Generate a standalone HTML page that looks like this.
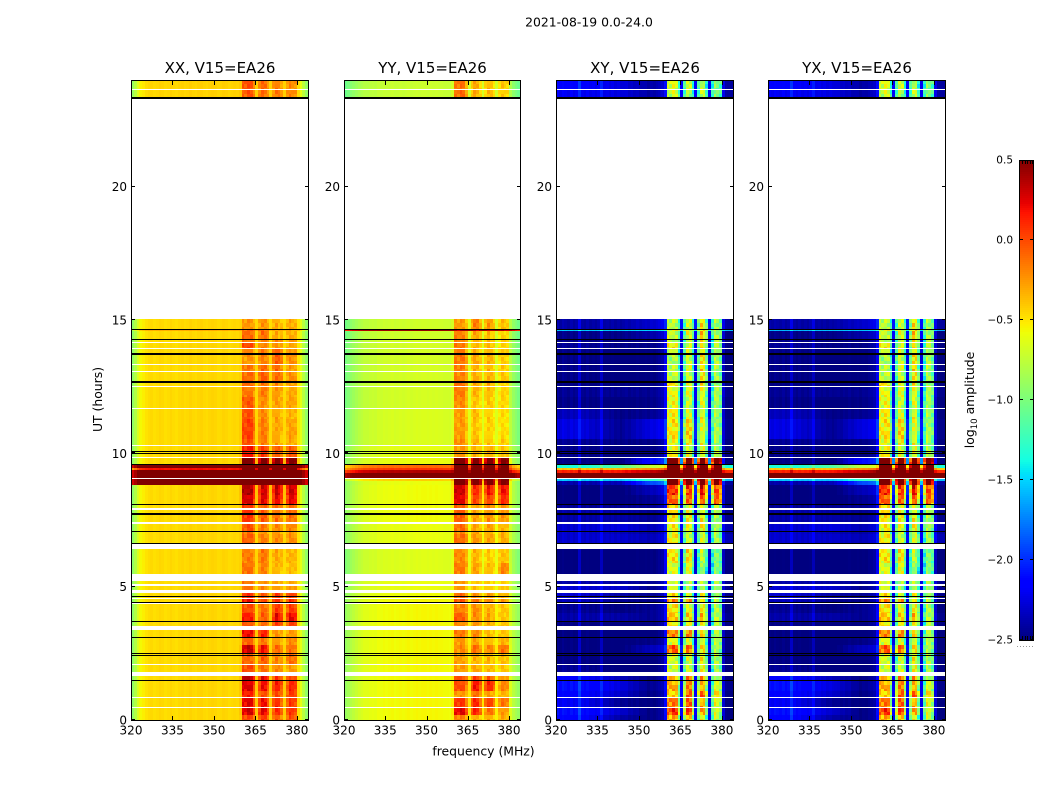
<!DOCTYPE html>
<html>
<head>
<meta charset="utf-8">
<title>2021-08-19 0.0-24.0</title>
<style>
html,body{margin:0;padding:0;background:#fff;}
svg{display:block;}
text{font-family:"DejaVu Sans","Liberation Sans",sans-serif;fill:#000;}
</style>
</head>
<body>
<svg id="figure" xmlns="http://www.w3.org/2000/svg" width="1050" height="800" viewBox="0 0 1050 800">
  <rect x="0" y="0" width="1050" height="800" fill="#fff"/>
  <text x="589" y="26.5" font-size="12.4" text-anchor="middle">2021-08-19 0.0-24.0</text>
  <text x="0" y="0" font-size="12.4" text-anchor="middle" transform="translate(102 399.5) rotate(-90)">UT (hours)</text>
  <text x="483.5" y="755.5" font-size="12.4" text-anchor="middle">frequency (MHz)</text>
  <text x="0" y="0" font-size="12.4" text-anchor="middle" transform="translate(974 400) rotate(-90)">log<tspan font-size="8.6" dy="3">10</tspan><tspan dy="-3"> amplitude</tspan></text>
  <g id="panels"></g>
  <g id="colorbar"></g>
</svg>
<script>
// Axis ticks
const freqTicks = [320, 335, 350, 365, 380];
const utTicks = [0, 5, 10, 15, 20];
const colorbarTicks = [0.5, 0.0, -0.5, -1.0, -1.5, -2.0, -2.5];
const colorbarLabels = ["0.5", "0.0", "\u22120.5", "\u22121.0", "\u22121.5", "\u22122.0", "\u22122.5"];

// Time rows that hold data [start UT, end UT] – anything not listed is blank
const rowSpans = [
[0,0.2],[0.2,0.45],[0.49,0.82],[0.86,1.1],[1.1,1.46],[1.5,1.65],[1.8,2.06],[2.1,2.5],[2.5,2.8],[2.8,3.07],
[3.11,3.37],[3.52,3.71],[3.71,4.0],[4.0,4.35],[4.39,4.55],[4.59,4.76],[4.89,5.04],[5.1,5.21],[5.47,5.9],[5.9,6.41],
[6.63,6.97],[6.99,7.05],[7.08,7.35],[7.42,7.89],[7.95,8.1],[8.1,8.45],[8.45,8.81],[8.81,8.95],[8.95,9.03],[9.07,9.25],
[9.25,9.37],[9.37,9.45],[9.45,9.61],[9.61,9.82],[9.86,10.27],[10.31,10.55],[10.55,11.3],[11.3,11.66],[11.69,12.1],[12.1,12.48],
[12.52,12.71],[12.71,13.04],[13.08,13.3],[13.34,13.75],[13.75,13.9],[13.94,14.13],[14.17,14.3],[14.3,14.57],[14.57,14.65],[14.65,15.05],
[23.28,23.61],[23.65,24.0]
];

// Flagged time spans drawn in black [start UT, end UT]
const blackSpans = [
[1.46,1.5],[2.40,2.44],[2.48,2.51],[3.07,3.11],[3.67,3.71],[4.39,4.42],[4.61,4.65],[6.60,6.63],[7.05,7.08],
[7.68,7.76],[8.06,8.10],[9.58,9.61],[10.0,10.03],[10.06,10.10],[12.63,12.71],[13.68,13.75],[14.24,14.30],[14.64,14.67],[23.28,23.35]
];

// Frequency channels 320..383 MHz: which sub-band each belongs to (0 = outside), and how strongly
const channelBand = [0,0,0,0,0,0,0,0,0,0,0,0,0,0,0,0,0,0,0,0,0,0,0,0,0,0,0,0,0,0,0,0,0,0,0,0,0,0,0,1,1,1,1,1,1,2,2,2,2,2,3,3,3,3,3,4,4,4,4,4,4,0,0,0];
const bandWeight = [0,0,0,0,0,0,0,0,0,0,0,0,0,0,0,0,0,0,0,0,0,0,0,0,0,0,0,0,0,0,0,0,0,0,0,0,0,0,0,0.1,1,1,1,1,0.72,0.15,0.72,1,1,0.72,0.15,0.72,1,1,0.72,0.15,0.72,1,1,0.85,0.1,0,0,0];

// Per-channel offsets (log10 amplitude)
const xxProfile = [-0.42,-0.3,-0.16,-0.06,-0.03,0.01,0.03,0.04,0.02,0.03,0.05,0.04,0.02,0.03,0.05,0.03,0.02,0.04,0.05,0.03,0.04,0.06,0.04,0.03,0.05,0.06,0.04,0.03,0.05,0.06,0.05,0.03,0.04,0.06,0.05,0.03,0.04,0.05,0.04,0.03,0.02,-0.02,0.03,0.02,0,0,0,0.03,-0.02,0,0,0,0.03,-0.03,0,0,0,0.02,-0.02,0,-0.02,-0.12,-0.28,-0.42];
const yyProfile = [-0.32,-0.27,-0.22,-0.18,-0.14,-0.1,-0.08,-0.05,-0.05,-0.03,-0.02,-0.03,0,-0.01,0.01,0,0.01,0.02,0,0.01,0.02,0.01,0.02,0.03,0.01,0.02,0.03,0.02,0.03,0.03,0.02,0.03,0.02,0.03,0.02,0.02,0.01,0.01,0,0,0.02,-0.02,0.03,0.02,0,0,0,0.03,-0.02,0,0,0,0.03,-0.03,0,0,0,0.02,-0.02,0,-0.1,-0.2,-0.26,-0.32];
const xyProfile = [0.05,0,0.06,0.03,0,0.05,0,0.03,0.22,0.02,0,0.05,0,0.03,0,0.04,0.2,0.01,0.03,0,0.04,0,0.03,0,0.02,0.04,0,0.03,0.01,0.04,0,0.02,0.03,0,0.04,0.02,0.05,0.08,0.12,0.15,0.02,-0.03,0.04,0.02,0,0,0,0.04,-0.03,0,0,0,0.04,-0.04,0,0,0,0.03,-0.03,0,0.05,0.02,0,0];
const yxProfile = [0.04,0.01,0.05,0.03,0.01,0.05,0,0.03,0.2,0.03,0,0.04,0,0.03,0,0.05,0.18,0.01,0.03,0,0.03,0,0.03,0.01,0.02,0.03,0,0.03,0.01,0.04,0,0.02,0.03,0,0.03,0.02,0.05,0.08,0.11,0.15,0.03,-0.03,0.03,0.02,0,0,0,0.03,-0.03,0,0,0,0.04,-0.03,0,0,0,0.03,-0.03,0,0.05,0.02,0,0];

// Per-row levels: [outside-band, sub-band 1, 2, 3, 4]
const xxRows = [
[-0.42,0.05,0.1,-0.02,0.05],[-0.42,0.32,0.3,0.15,0.15],[-0.42,0.28,0.25,0.15,0.12],[-0.42,0.18,0.05,0.05,0.12],[-0.42,0.3,0.25,0.2,0.18],
[-0.42,0.4,0.28,0.1,0.1],[-0.42,0.05,-0.05,-0.15,-0.2],[-0.42,-0.05,0,-0.15,-0.05],[-0.42,0.35,0.25,-0.05,-0.05],[-0.42,-0.05,-0.1,-0.2,-0.15],
[-0.42,0.25,0.2,-0.2,-0.2],[-0.42,0,-0.05,0.1,0.1],[-0.42,0.2,0,0.27,0.3],[-0.42,0.05,-0.05,0.12,0.12],[-0.42,0.22,0.05,0.15,0.15],
[-0.42,0.12,0,0.1,0.1],[-0.42,-0.1,-0.15,-0.2,-0.2],[-0.42,-0.1,-0.15,-0.25,-0.25],[-0.42,-0.08,-0.12,-0.3,-0.32],[-0.42,-0.12,-0.08,-0.27,-0.28],
[-0.42,-0.02,-0.1,-0.15,-0.15],[-0.42,-0.1,-0.2,-0.2,-0.2],[-0.42,0.02,-0.08,-0.15,-0.12],[-0.42,0.12,0,-0.08,-0.05],[-0.42,0.1,0,-0.05,-0.05],
[-0.42,0.32,0.3,0.28,0.3],[-0.42,0.42,0.35,0.35,0.38],[0.7,0.7,0.7,0.7,0.7],[0.7,0.7,0.7,0.7,0.7],[0.7,0.7,0.7,0.7,0.7],
[0.7,0.7,0.7,0.7,0.7],[0.15,0.7,0.7,0.7,0.7],[0.7,0.7,0.7,0.7,0.7],[-0.42,0.6,0.6,0.6,0.6],[-0.42,0.2,0.12,0,0.02],[-0.42,0.02,-0.12,-0.25,-0.25],
[-0.42,0.08,-0.1,-0.25,-0.22],[-0.42,0.02,-0.15,-0.25,-0.28],[-0.42,0,-0.15,-0.22,-0.22],[-0.42,-0.1,-0.1,-0.2,-0.25],[-0.42,-0.05,-0.08,-0.18,-0.2],
[-0.42,-0.05,0.02,-0.05,-0.15],[-0.42,-0.1,-0.05,-0.05,-0.2],[-0.42,-0.2,-0.12,0,-0.15],[-0.42,-0.15,-0.1,0,-0.2],[-0.42,0.05,-0.12,-0.2,-0.25],
[-0.42,-0.1,-0.12,-0.15,-0.2],[-0.42,-0.05,-0.05,-0.28,-0.25],[-0.28,-0.05,-0.05,-0.25,-0.25],[-0.42,-0.2,-0.18,-0.28,-0.25],
[-0.4,0,-0.05,-0.1,-0.12],[-0.4,0.02,-0.05,-0.12,-0.15]
];
const yyRows = [
[-0.58,-0.12,-0.25,-0.25,-0.22],[-0.58,0.3,0.22,-0.05,-0.15],[-0.58,0.12,0.2,0.12,-0.05],[-0.58,-0.2,-0.02,-0.2,-0.25],[-0.58,0.05,0.25,0.2,-0.1],
[-0.58,0.05,0.12,0,-0.15],[-0.58,-0.2,-0.2,-0.28,-0.3],[-0.58,-0.22,-0.25,-0.28,-0.28],[-0.58,-0.15,-0.02,-0.12,-0.02],[-0.58,-0.2,-0.2,-0.28,-0.25],
[-0.58,-0.1,-0.1,-0.3,-0.3],[-0.58,-0.15,-0.15,-0.25,-0.3],[-0.58,0,-0.12,-0.22,-0.3],[-0.58,-0.12,-0.12,-0.25,-0.3],[-0.58,0.02,-0.05,-0.12,-0.18],
[-0.6,-0.05,-0.15,-0.2,-0.25],[-0.62,-0.2,-0.3,-0.32,-0.32],[-0.62,-0.2,-0.3,-0.35,-0.35],[-0.66,-0.1,-0.2,-0.28,-0.1],[-0.66,-0.15,-0.25,-0.35,-0.28],
[-0.62,-0.05,-0.15,-0.2,-0.22],[-0.62,-0.15,-0.2,-0.25,-0.25],[-0.62,-0.05,-0.2,-0.2,-0.25],[-0.6,0,-0.2,-0.15,-0.15],[-0.6,-0.02,-0.2,-0.1,-0.15],
[-0.6,0.3,0.1,0.1,0.2],[-0.6,0.35,0.2,0.25,0.3],[-0.62,0.7,0.7,0.7,0.7],[-0.45,0.7,0.7,0.7,0.7],[0.7,0.7,0.7,0.7,0.7],
[0.35,0.7,0.7,0.7,0.7],[0.05,0.7,0.7,0.7,0.7],[-0.12,0.7,0.7,0.7,0.7],[-0.62,0.6,0.6,0.6,0.6],[-0.64,-0.2,-0.25,-0.25,-0.3],[-0.68,-0.15,-0.25,-0.32,-0.32],
[-0.68,-0.2,-0.3,-0.35,-0.38],[-0.68,-0.2,-0.28,-0.35,-0.38],[-0.7,-0.15,-0.3,-0.32,-0.35],[-0.7,-0.1,-0.25,-0.28,-0.35],[-0.7,-0.05,-0.22,-0.25,-0.35],
[-0.7,-0.12,-0.22,-0.25,-0.3],[-0.7,-0.1,-0.25,-0.28,-0.32],[-0.7,-0.08,-0.2,-0.25,-0.32],[-0.7,-0.1,-0.25,-0.25,-0.32],[-0.7,-0.1,-0.25,-0.28,-0.35],
[-0.7,-0.12,-0.25,-0.28,-0.32],[-0.72,-0.12,-0.2,-0.3,-0.35],[0.42,0.42,0.42,0.42,0.42],[-0.72,-0.2,-0.08,-0.18,-0.28],
[-0.74,-0.05,-0.22,-0.28,-0.32],[-0.74,-0.08,-0.22,-0.28,-0.32]
];
// Cross-hand rows: [outside near 326 MHz, near 343 MHz, near 353 MHz, sub-band 1, 2, 3, 4]
const xyRows = [
[-2.05,-2.3,-2.38,-0.35,-0.55,-0.8,-0.8],[-2.0,-2.2,-2.38,0.02,-0.05,-0.45,-0.7],[-2.1,-2.35,-2.4,-0.2,-0.2,-0.5,-0.7],[-2.05,-2.2,-2.38,-0.5,-0.15,-0.2,-0.55],[-2.0,-2.15,-2.35,-0.35,-0.3,-0.5,-0.75],
[-2.05,-2.25,-2.38,-0.35,-0.3,-0.45,-0.8],[-2.35,-2.42,-2.42,-0.7,-0.75,-0.7,-0.9],[-2.4,-2.42,-2.42,-0.7,-0.8,-0.75,-0.85],[-2.4,-2.42,-2.25,-0.1,-0.2,-0.65,-0.85],[-2.4,-2.42,-2.38,-0.7,-0.8,-0.8,-0.85],
[-2.4,-2.42,-2.42,-0.25,-0.3,-0.65,-0.85],[-2.4,-2.42,-2.4,-0.55,-0.7,-0.7,-0.85],[-2.3,-2.3,-2.35,-0.4,-0.55,-0.55,-0.8],[-2.35,-2.4,-2.35,-0.5,-0.7,-0.7,-0.85],[-2.25,-2.35,-2.38,-0.25,-0.4,-0.65,-0.85],
[-2.2,-2.3,-2.35,-0.55,-0.85,-0.75,-0.9],[-2.2,-2.2,-2.35,-0.75,-1.0,-0.9,-0.95],[-2.3,-2.3,-2.35,-0.7,-0.85,-0.85,-0.9],[-2.42,-2.42,-2.4,-0.7,-0.75,-1.05,-1.05],[-2.42,-2.42,-2.4,-0.55,-0.6,-0.95,-1.0],
[-2.2,-2.2,-2.25,-0.55,-0.8,-0.8,-0.9],[-2.2,-2.25,-2.3,-0.7,-0.85,-0.85,-0.9],[-2.2,-2.15,-2.25,-0.6,-0.7,-0.7,-0.85],[-2.3,-2.3,-2.35,-0.55,-0.7,-0.75,-0.85],[-2.35,-2.35,-2.35,-0.5,-0.7,-0.75,-0.85],
[-2.42,-2.42,-2.35,-0.1,-0.2,-0.2,-0.15],[-2.42,-2.42,-2.25,0.05,-0.05,0,-0.05],[-2.3,-2.25,-1.8,0.7,0.7,0.7,0.7],[-1.45,-1.45,-1.2,0.7,0.7,0.7,0.7],[0.55,0.55,0.65,0.7,0.7,0.7,0.7],
[0.1,0.15,0.3,0.7,0.7,0.7,0.7],[-0.3,-0.25,-0.1,0.7,0.7,0.7,0.7],[-1.25,-1.05,-0.65,0.7,0.7,0.7,0.7],[-2.4,-2.42,-2.0,0.7,0.7,0.7,0.7],[-2.38,-2.42,-2.4,-0.6,-0.75,-0.75,-0.85],[-2.35,-2.38,-2.38,-0.65,-0.7,-0.8,-0.9],
[-2.15,-2.35,-2.15,-0.55,-0.55,-0.8,-0.9],[-2.25,-2.38,-2.35,-0.6,-0.8,-0.8,-0.9],[-2.38,-2.42,-2.38,-0.65,-0.8,-0.8,-0.9],[-2.35,-2.35,-2.35,-0.65,-0.75,-0.75,-0.9],[-2.4,-2.4,-2.4,-0.5,-0.75,-0.7,-0.9],
[-2.38,-2.42,-2.4,-0.75,-0.8,-0.65,-0.9],[-2.38,-2.42,-2.4,-0.8,-0.8,-0.65,-0.85],[-2.38,-2.42,-2.4,-0.85,-0.8,-0.65,-0.85],[-2.38,-2.42,-2.4,-0.8,-0.8,-0.7,-0.9],[-2.35,-2.38,-2.38,-0.6,-0.75,-0.7,-0.85],
[-2.38,-2.4,-2.38,-0.8,-0.85,-0.65,-0.85],[-2.38,-2.38,-2.3,-0.75,-0.75,-0.6,-0.85],[-1.45,-1.45,-1.4,-0.6,-0.7,-0.6,-0.85],[-2.3,-2.3,-2.2,-0.8,-0.85,-0.7,-0.9],
[-2.1,-2.15,-2.3,-0.75,-0.95,-0.9,-1.0],[-2.05,-2.15,-2.3,-0.7,-0.85,-0.95,-1.05]
];
const yxRows = [
[-2.05,-2.3,-2.38,-0.35,-0.55,-0.8,-0.8],[-2.0,-2.2,-2.38,0.02,-0.05,-0.45,-0.7],[-2.1,-2.35,-2.4,-0.2,-0.2,-0.5,-0.7],[-2.05,-2.2,-2.38,-0.5,-0.15,-0.2,-0.55],[-2.0,-2.15,-2.35,-0.35,-0.3,-0.5,-0.75],
[-2.05,-2.25,-2.38,-0.35,-0.3,-0.45,-0.8],[-2.35,-2.42,-2.42,-0.7,-0.75,-0.7,-0.9],[-2.4,-2.42,-2.42,-0.7,-0.8,-0.75,-0.85],[-2.4,-2.42,-2.25,-0.1,-0.2,-0.65,-0.85],[-2.4,-2.42,-2.38,-0.7,-0.8,-0.8,-0.85],
[-2.4,-2.42,-2.42,-0.25,-0.3,-0.65,-0.85],[-2.4,-2.42,-2.4,-0.55,-0.7,-0.7,-0.85],[-2.3,-2.3,-2.35,-0.4,-0.55,-0.55,-0.8],[-2.35,-2.4,-2.35,-0.5,-0.7,-0.7,-0.85],[-2.25,-2.35,-2.38,-0.25,-0.4,-0.65,-0.85],
[-2.2,-2.3,-2.35,-0.55,-0.85,-0.75,-0.9],[-2.2,-2.2,-2.35,-0.75,-1.0,-0.9,-0.95],[-2.3,-2.3,-2.35,-0.7,-0.85,-0.85,-0.9],[-2.42,-2.42,-2.4,-0.7,-0.75,-1.05,-1.05],[-2.42,-2.42,-2.4,-0.55,-0.6,-0.95,-1.0],
[-2.2,-2.2,-2.25,-0.55,-0.8,-0.8,-0.9],[-2.2,-2.25,-2.3,-0.7,-0.85,-0.85,-0.9],[-2.2,-2.15,-2.25,-0.6,-0.7,-0.7,-0.85],[-2.3,-2.3,-2.35,-0.55,-0.7,-0.75,-0.85],[-2.35,-2.35,-2.35,-0.5,-0.7,-0.75,-0.85],
[-2.42,-2.42,-2.35,-0.1,-0.2,-0.2,-0.15],[-2.42,-2.42,-2.25,0.05,-0.05,0,-0.05],[-2.3,-2.25,-1.8,0.7,0.7,0.7,0.7],[-1.45,-1.45,-1.2,0.7,0.7,0.7,0.7],[0.55,0.55,0.65,0.7,0.7,0.7,0.7],
[0.1,0.15,0.3,0.7,0.7,0.7,0.7],[-0.3,-0.25,-0.1,0.7,0.7,0.7,0.7],[-1.25,-1.05,-0.65,0.7,0.7,0.7,0.7],[-2.4,-2.42,-2.0,0.7,0.7,0.7,0.7],[-2.38,-2.42,-2.4,-0.6,-0.75,-0.75,-0.85],[-2.35,-2.38,-2.38,-0.65,-0.7,-0.8,-0.9],
[-2.15,-2.35,-2.15,-0.55,-0.55,-0.8,-0.9],[-2.25,-2.38,-2.35,-0.6,-0.8,-0.8,-0.9],[-2.38,-2.42,-2.38,-0.65,-0.8,-0.8,-0.9],[-2.35,-2.35,-2.35,-0.65,-0.75,-0.75,-0.9],[-2.4,-2.4,-2.4,-0.5,-0.75,-0.7,-0.9],
[-2.38,-2.42,-2.4,-0.75,-0.8,-0.65,-0.9],[-2.38,-2.42,-2.4,-0.8,-0.8,-0.65,-0.85],[-2.38,-2.42,-2.4,-0.85,-0.8,-0.65,-0.85],[-2.38,-2.42,-2.4,-0.8,-0.8,-0.7,-0.9],[-2.35,-2.38,-2.38,-0.6,-0.75,-0.7,-0.85],
[-2.38,-2.4,-2.38,-0.8,-0.85,-0.65,-0.85],[-2.38,-2.38,-2.3,-0.75,-0.75,-0.6,-0.85],[-1.5,-1.45,-1.45,-0.6,-0.7,-0.6,-0.85],[-2.3,-2.3,-2.2,-0.8,-0.85,-0.7,-0.9],
[-2.1,-2.15,-2.3,-0.75,-0.95,-0.9,-1.0],[-2.05,-2.15,-2.3,-0.7,-0.85,-0.95,-1.05]
];

// Level calibration per panel: shift outside the sub-bands, shift of sub-bands 1-4, strength of fine structure
const leftShifts = [-0.08, 0, -0.12, -0.12];
const bandShifts = [[-0.07,-0.07,-0.05,-0.06],[-0.08,-0.1,-0.08,-0.1],[-0.02,0.08,0.15,0.06],[-0.02,0.08,0.15,0.06]];
const textureScale = [0.1, 0.1, 0.3, 0.3];
// Fine structure inside channels 360..379 MHz, cycled through small time strips
const bandTexture = [
[0.3,-0.4,0.6,0.2,-0.5,0,0.4,-0.2,0.7,-0.6,0,0.5,-0.3,0.2,-0.8,0,-0.2,0.6,0.1,-0.4],
[-0.2,0.5,0.1,-0.6,0.3,0,-0.5,0.6,-0.1,0.3,0,-0.3,0.7,-0.4,0.2,0,0.5,-0.2,-0.6,0.4],
[0.6,0.1,-0.3,0.4,0.2,0,0.3,-0.7,0.4,0.1,0,0.6,0.1,-0.6,0.5,0,-0.4,0.3,0.4,-0.1],
[-0.5,0.2,0.7,-0.1,-0.3,0,-0.1,0.4,0.2,-0.5,0,-0.4,0.4,0.3,-0.2,0,0.6,-0.5,0.1,0.3],
[0.1,-0.6,0.2,0.5,0.4,0,0.6,0.1,-0.6,0.2,0,0.2,-0.7,0.5,0.1,0,0.1,0.4,-0.3,-0.5],
[0.4,0.3,-0.5,-0.2,0.6,0,-0.3,-0.1,0.5,0.4,0,-0.1,0.3,-0.2,0.6,0,-0.6,-0.1,0.5,0.2],
[-0.3,0.6,0.2,0.3,-0.6,0,0.2,0.5,-0.2,-0.4,0,0.4,-0.5,0.1,-0.3,0,0.3,0.2,-0.1,0.6]
];

const panelTitles = ["XX, V15=EA26", "YY, V15=EA26", "XY, V15=EA26", "YX, V15=EA26"];
const panelProfiles = [xxProfile, yyProfile, xyProfile, yxProfile];
const panelRows = [xxRows, yyRows, xyRows, yxRows];

// Layout (not data)
const panelOrigins = [131, 344, 556, 768];
const panelWidths = [177, 176, 177, 177];
const plotTop = 80, plotBottom = 720;
const freqMin = 320, freqMax = 384, utMin = 0, utMax = 24;
const cbarLeft = 1019, cbarRight = 1034, cbarTop = 160, cbarBottom = 640;
const vMin = -2.5, vMax = 0.5;
const stripHeight = 4;
const SVGNS = "http://www.w3.org/2000/svg";

function xScale(p, freq) { return panelOrigins[p] + (freq - freqMin) / (freqMax - freqMin) * panelWidths[p]; }
function yScale(ut) { return plotBottom - (ut - utMin) / (utMax - utMin) * (plotBottom - plotTop); }
function cbarScale(v) { return cbarBottom - (v - vMin) / (vMax - vMin) * (cbarBottom - cbarTop); }

function seg(t, pts) {
  if (t <= pts[0][0]) return pts[0][1];
  for (let i = 1; i < pts.length; i++) {
    if (t <= pts[i][0]) {
      const a = pts[i - 1], b = pts[i];
      return a[1] + (b[1] - a[1]) * (t - a[0]) / (b[0] - a[0]);
    }
  }
  return pts[pts.length - 1][1];
}
const jetR = [[0.35, 0], [0.66, 1], [0.89, 1], [1, 0.5]];
const jetG = [[0.125, 0], [0.375, 1], [0.64, 1], [0.91, 0]];
const jetB = [[0, 0.5], [0.11, 1], [0.34, 1], [0.65, 0]];
function colorOf(v) {
  const t = Math.max(0, Math.min(1, (v - vMin) / (vMax - vMin)));
  const r = Math.round(255 * seg(t, jetR));
  const g = Math.round(255 * seg(t, jetG));
  const b = Math.round(255 * seg(t, jetB));
  return "rgb(" + r + "," + g + "," + b + ")";
}
function outsideLevel(row, c) {
  if (row.length === 5) return row[0];
  if (c >= 60) return Math.min(row[0], row[1], row[2]);
  if (c <= 9) return row[0];
  if (c <= 23) return row[0] + (row[1] - row[0]) * (c - 9) / 14;
  if (c <= 33) return row[1] + (row[2] - row[1]) * (c - 23) / 10;
  return row[2];
}
function cellValue(row, p, c) {
  const profile = panelProfiles[p];
  const shift = row[0] >= 0 ? 0 : leftShifts[p];
  const left = outsideLevel(row, c) + shift;
  const bandOffset = row.length === 7 ? 2 : 0;
  const band = channelBand[c];
  if (band === 0) return left + profile[c];
  const raw = row[band + bandOffset];
  const level = raw + (raw >= 0.6 ? 0 : bandShifts[p][band - 1]);
  return left + profile[c] + bandWeight[c] * (level - left);
}
function addCell(g, x0, x1, yTop, yBot, value) {
  const cell = document.createElementNS(SVGNS, "rect");
  cell.setAttribute("x", x0);
  cell.setAttribute("y", yTop);
  cell.setAttribute("width", x1 - x0);
  cell.setAttribute("height", Math.max(1, yBot - yTop));
  cell.setAttribute("fill", colorOf(value));
  
  
  g.appendChild(cell);
}
function line(parent, x1, y1, x2, y2, name) {
  const el = document.createElementNS(SVGNS, "line");
  el.setAttribute("x1", x1);
  el.setAttribute("y1", y1);
  el.setAttribute("x2", x2);
  el.setAttribute("y2", y2);
  el.setAttribute("stroke", "#000");
  el.setAttribute("stroke-width", "1");
  el.setAttribute("shape-rendering", "crispEdges");
  
  
  parent.appendChild(el);
}
function label(parent, x, y, str, anchor, size, name) {
  const el = document.createElementNS(SVGNS, "text");
  el.setAttribute("x", x);
  el.setAttribute("y", y);
  el.setAttribute("text-anchor", anchor);
  el.setAttribute("font-size", size);
  el.textContent = str;
  
  
  parent.appendChild(el);
}

const panelsGroup = document.getElementById("panels");
panelTitles.forEach(function (title, p) {
  const left = panelOrigins[p];
  const width = panelWidths[p];
  const right = left + width;
  const g = document.createElementNS(SVGNS, "g");
  
  
  panelsGroup.appendChild(g);

  const rows = panelRows[p];
  const profile = panelProfiles[p];
  rowSpans.forEach(function (span, r) {
    const yTop = Math.round(yScale(span[1]));
    const yBot = Math.round(yScale(span[0]));
    for (let c = 0; c < profile.length; c++) {
      const x0 = Math.round(xScale(p, freqMin + c));
      const x1 = Math.round(xScale(p, freqMin + c + 1));
      const value = cellValue(rows[r], p, c);
      if (c >= 40 && c < 60 && value < 0.55) {
        let strip = 0;
        for (let y = yTop; y < yBot; y += stripHeight, strip++) {
          const tex = bandTexture[(strip + r * 3) % bandTexture.length][c - 40];
          addCell(g, x0, x1, y, Math.min(yBot, y + stripHeight), value + tex * textureScale[p]);
        }
      } else {
        addCell(g, x0, x1, yTop, yBot, value);
      }
    }
  });

  blackSpans.forEach(function (span) {
    const yTop = Math.round(yScale(span[1]));
    const yBot = Math.round(yScale(span[0]));
    const bar = document.createElementNS(SVGNS, "rect");
    bar.setAttribute("x", left);
    bar.setAttribute("y", yTop);
    bar.setAttribute("width", width);
    bar.setAttribute("height", Math.max(1, yBot - yTop));
    bar.setAttribute("fill", "#000");
    
    
    g.appendChild(bar);
  });

  const frame = document.createElementNS(SVGNS, "rect");
  frame.setAttribute("x", left + 0.5);
  frame.setAttribute("y", plotTop + 0.5);
  frame.setAttribute("width", width);
  frame.setAttribute("height", plotBottom - plotTop);
  frame.setAttribute("fill", "none");
  frame.setAttribute("stroke", "#000");
  frame.setAttribute("stroke-width", "1");
  
  
  g.appendChild(frame);

  freqTicks.forEach(function (f) {
    const x = Math.round(xScale(p, f)) + 0.5;
    line(g, x, plotBottom, x, plotBottom - 4, 'x-tick');
    line(g, x, plotTop, x, plotTop + 5, 'x-tick');
    label(g, xScale(p, f), plotBottom + 14.5, String(f), "middle", 12, 'x-tick-label');
  });
  utTicks.forEach(function (u) {
    const y = Math.round(yScale(u)) - 0.5;
    line(g, left, y, left + 4, y, 'y-tick');
    line(g, right + 1, y, right - 3, y, 'y-tick');
    label(g, left - 4, yScale(u) + 4.5, String(u), "end", 12, 'y-tick-label');
  });
  label(g, left + width / 2 + 0.5, 73, title, "middle", 15, 'panel-title');
});

// Colorbar
const cbar = document.getElementById("colorbar");
for (let y = cbarTop; y < cbarBottom; y += 2) {
  const v = vMax - (y + 1 - cbarTop) / (cbarBottom - cbarTop) * (vMax - vMin);
  const strip = document.createElementNS(SVGNS, "rect");
  strip.setAttribute("x", cbarLeft);
  strip.setAttribute("y", y);
  strip.setAttribute("width", cbarRight - cbarLeft);
  strip.setAttribute("height", 2);
  strip.setAttribute("fill", colorOf(v));
  
  
  cbar.appendChild(strip);
}
const cbarFrame = document.createElementNS(SVGNS, "rect");
cbarFrame.setAttribute("x", cbarLeft + 0.5);
cbarFrame.setAttribute("y", cbarTop + 0.5);
cbarFrame.setAttribute("width", cbarRight - cbarLeft - 1);
cbarFrame.setAttribute("height", cbarBottom - cbarTop);
cbarFrame.setAttribute("fill", "none");
cbarFrame.setAttribute("stroke", "#000");
cbarFrame.setAttribute("stroke-width", "1");


cbar.appendChild(cbarFrame);
colorbarTicks.forEach(function (v, i) {
  const y = Math.round(cbarScale(v)) - (v === vMax ? -0.5 : 0.5);
  line(cbar, cbarLeft, y, cbarLeft + 4, y, 'colorbar-tick');
  line(cbar, cbarRight - 4, y, cbarRight, y, 'colorbar-tick');
  label(cbar, cbarLeft - 6, cbarScale(v) + 3.5, colorbarLabels[i], "end", 10.5, 'colorbar-tick-label');
});
for (let x = cbarLeft + 3; x < cbarRight - 1; x += 2.6) {
  const px = Math.round(x) + 0.5;
  line(cbar, px, cbarTop, px, cbarTop + 4, 'colorbar-edge-tick');
  line(cbar, px, cbarBottom, px, cbarBottom - 4, 'colorbar-edge-tick');
}
const dots = document.createElementNS(SVGNS, "line");
dots.setAttribute("x1", cbarLeft - 2);
dots.setAttribute("y1", 646.5);
dots.setAttribute("x2", cbarRight + 1);
dots.setAttribute("y2", 646.5);
dots.setAttribute("stroke", "#999");
dots.setAttribute("stroke-width", "1");
dots.setAttribute("stroke-dasharray", "1 2");


cbar.appendChild(dots);
</script>
</body>
</html>
